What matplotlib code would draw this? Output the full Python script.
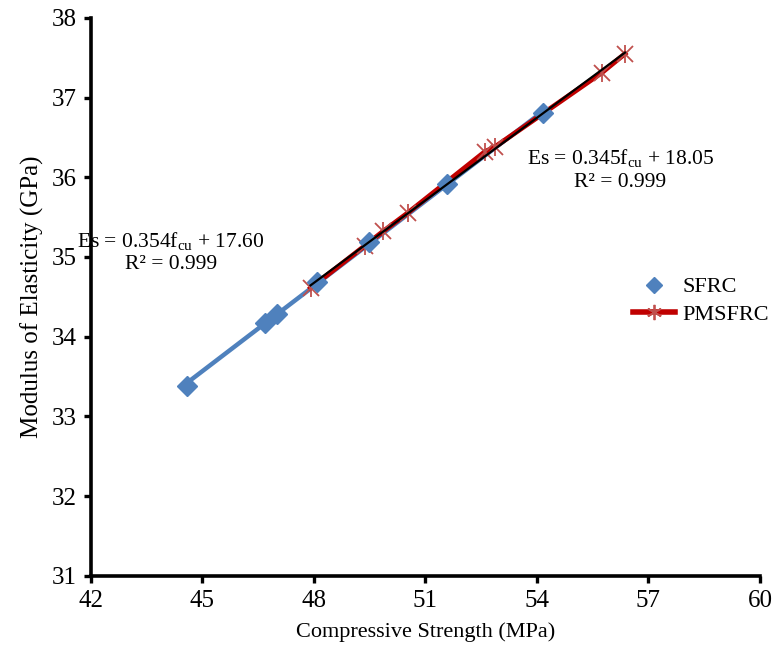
import matplotlib.pyplot as plt
import numpy as np
from matplotlib.lines import Line2D

plt.rcParams['font.family'] = ['Liberation Serif', 'DejaVu Serif']
plt.rcParams['mathtext.fontset'] = 'custom'
plt.rcParams['mathtext.rm'] = 'Liberation Serif'
plt.rcParams['mathtext.it'] = 'Liberation Serif:italic'

# ---------- data ----------
sfrc_fcu = [44.59, 46.68, 47.00, 48.07, 49.48, 51.57, 54.17]
sfrc_es = [33.38, 34.17, 34.29, 34.68, 35.19, 35.91, 36.80]

pmsfrc_fcu = [47.91, 49.37, 49.86, 50.52, 52.60, 52.87, 55.74, 56.37]
pmsfrc_es = [34.61, 35.14, 35.32, 35.55, 36.32, 36.38, 37.31, 37.55]

x_ticks = [42, 45, 48, 51, 54, 57, 60]
y_ticks = [31, 32, 33, 34, 35, 36, 37, 38]

eq_sfrc = "Es = 0.354f$_{\\mathrm{cu}}$ + 17.60\nR\u00b2 = 0.999"
eq_pmsfrc = "Es = 0.345f$_{\\mathrm{cu}}$ + 18.05\nR\u00b2 = 0.999"

blue = '#4F81BD'
dark_red = '#C00000'
light_red = '#C0504D'

fig = plt.figure(figsize=(7.77, 6.61), dpi=100)
ax = fig.add_axes([0.117, 0.129, 0.861, 0.844])

# SFRC linear trendline
k1, b1 = np.polyfit(sfrc_fcu, sfrc_es, 1)
xs1 = np.array([min(sfrc_fcu), max(sfrc_fcu)])
ax.plot(xs1, k1 * xs1 + b1, color=blue, lw=3.2, zorder=2, solid_capstyle='butt')

# PMSFRC series line + markers
ax.plot(pmsfrc_fcu, pmsfrc_es, color=dark_red, lw=3.6, zorder=3)
ax.plot(pmsfrc_fcu, pmsfrc_es, ls='none', marker='x', ms=11, mew=1.3,
        color=light_red, zorder=4)
ax.plot(pmsfrc_fcu, pmsfrc_es, ls='none', marker='|', ms=13, mew=1.3,
        color=light_red, zorder=4)

# SFRC markers
ax.plot(sfrc_fcu, sfrc_es, ls='none', marker='D', ms=10, color=blue,
        mec=blue, zorder=5)

# PMSFRC linear trendline (black)
k2, b2 = np.polyfit(pmsfrc_fcu, pmsfrc_es, 1)
xs2 = np.array([min(pmsfrc_fcu), max(pmsfrc_fcu)])
ax.plot(xs2, k2 * xs2 + b2, color='black', lw=1.6, zorder=6)

ax.set_xlim(42, 60)
ax.set_ylim(31, 38)
ax.set_xticks(x_ticks)
ax.set_yticks(y_ticks)
ax.tick_params(axis='both', labelsize=18, width=2.4, length=5,
               direction='out', pad=5)

for side in ['top', 'right']:
    ax.spines[side].set_visible(False)
for side in ['left', 'bottom']:
    ax.spines[side].set_linewidth(2.6)

ax.set_xlabel("Compressive Strength (MPa)", fontsize=16, labelpad=8)
ax.set_ylabel("Modulus of Elasticity (GPa)", fontsize=18, labelpad=6)

ax.text(44.15, 35.06, eq_sfrc, fontsize=15.5, ha='center', va='center',
        multialignment='center', linespacing=1.25, zorder=7)
ax.text(56.25, 36.1, eq_pmsfrc, fontsize=15.5, ha='center', va='center',
        multialignment='center', linespacing=1.25, zorder=7)

# legend
h1 = Line2D([], [], ls='none', marker='D', ms=8, color=blue)
h2 = Line2D([], [], color=dark_red, lw=4, marker=(6, 2, 0), ms=11,
            mec=light_red, mew=1.3)
fig.legend([h1, h2], ['SFRC', 'PMSFRC'], loc='center left',
           bbox_to_anchor=(0.815, 0.545), frameon=False, fontsize=16,
           handlelength=1.9, handletextpad=0.3, labelspacing=0.3,
           borderaxespad=0, borderpad=0)

fig.savefig('out.png', dpi=100)
